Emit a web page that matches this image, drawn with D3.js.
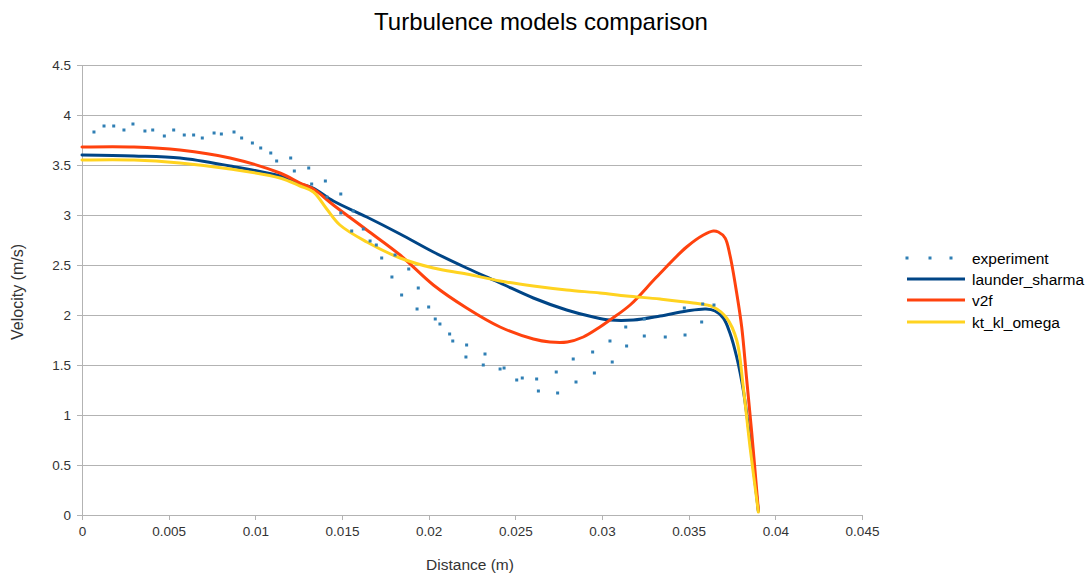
<!DOCTYPE html>
<html>
<head>
<meta charset="utf-8">
<script src="https://cdn.jsdelivr.net/npm/d3@7"></script>
<style>
  body { margin: 0; background: #fff; }
  svg { font-family: "Liberation Sans", Arial, sans-serif; }
</style>
</head>
<body>
<svg id="chart" width="1086" height="576"></svg>
<script>
const seriesNames = ["experiment", "launder_sharma", "v2f", "kt_kl_omega"];
const xTicks = [0, 0.005, 0.01, 0.015, 0.02, 0.025, 0.03, 0.035, 0.04, 0.045];
const yTicks = [0, 0.5, 1, 1.5, 2, 2.5, 3, 3.5, 4, 4.5];

const experimentX = [0.00069,0.00127,0.00183,0.00242,0.00294,0.00363,0.00408,0.00475,0.00529,0.00590,0.00644,0.00694,0.00762,0.00804,0.00877,0.00921,0.00983,0.01031,0.01089,0.01123,0.01204,0.01225,0.01308,0.01325,0.01404,0.01413,0.01493,0.01493,0.01565,0.01556,0.01623,0.01662,0.01698,0.01729,0.01806,0.01788,0.01885,0.01844,0.01940,0.01933,0.02000,0.02038,0.02065,0.02121,0.02139,0.02219,0.02215,0.02325,0.02315,0.02412,0.02435,0.02508,0.02540,0.02623,0.02633,0.02736,0.02744,0.02834,0.02850,0.02946,0.02956,0.03046,0.03059,0.03137,0.03142,0.03244,0.03244,0.03365,0.03475,0.03479,0.03575,0.03581,0.03646];
const experimentY = [3.83,3.89,3.89,3.85,3.91,3.84,3.85,3.79,3.85,3.80,3.80,3.77,3.82,3.81,3.83,3.77,3.72,3.67,3.62,3.54,3.57,3.44,3.47,3.31,3.34,3.18,3.21,3.02,3.04,2.84,2.86,2.74,2.70,2.57,2.60,2.38,2.46,2.20,2.27,2.06,2.08,1.96,1.91,1.81,1.74,1.70,1.58,1.61,1.50,1.46,1.47,1.35,1.37,1.36,1.24,1.43,1.22,1.56,1.33,1.63,1.42,1.74,1.53,1.88,1.69,1.96,1.79,1.78,2.07,1.80,1.93,2.11,2.10];

const launderX = [0,0.003,0.00565,0.00854,0.01142,0.01258,0.01333,0.0145,0.01643,0.01835,0.02027,0.02219,0.02412,0.02604,0.02796,0.0295,0.03046,0.03181,0.03335,0.03488,0.036,0.03652,0.037,0.03738,0.03777,0.03815,0.03854,0.03902];
const launderY = [3.60,3.59,3.57,3.49,3.39,3.31,3.27,3.14,2.98,2.81,2.63,2.47,2.32,2.17,2.05,1.98,1.95,1.95,1.99,2.04,2.06,2.04,1.97,1.82,1.58,1.25,0.75,0.04];

const v2fX = [0,0.003,0.00565,0.00854,0.01142,0.01258,0.01335,0.0145,0.01643,0.01835,0.02027,0.02219,0.02412,0.02604,0.027,0.028,0.02892,0.02988,0.03046,0.03162,0.03315,0.03488,0.03585,0.03642,0.03671,0.0371,0.03738,0.03777,0.03806,0.03835,0.03864,0.03902];
const v2fY = [3.68,3.68,3.65,3.57,3.42,3.32,3.26,3.10,2.85,2.60,2.30,2.07,1.88,1.76,1.73,1.73,1.78,1.88,1.95,2.10,2.38,2.68,2.80,2.84,2.83,2.77,2.60,2.22,1.88,1.35,0.82,0.05];

const ktX = [0,0.003,0.00565,0.00854,0.01142,0.01258,0.01335,0.01412,0.01488,0.01643,0.01835,0.02027,0.02219,0.02412,0.02604,0.02796,0.02988,0.03142,0.03335,0.03527,0.03642,0.03719,0.03777,0.03815,0.03854,0.03902];
const ktY = [3.55,3.55,3.52,3.46,3.37,3.29,3.23,3.06,2.90,2.73,2.57,2.47,2.41,2.34,2.29,2.25,2.22,2.19,2.16,2.12,2.08,1.97,1.75,1.28,0.68,0.03];

const colors = ["#2f7fb4", "#004586", "#ff420e", "#ffd320"];

const svg = d3.select("#chart");
const x = d3.scaleLinear().domain([0, 0.045]).range([82, 862]);
const y = d3.scaleLinear().domain([0, 4.5]).range([515, 65]);

// title
svg.append("text").attr("x", 541).attr("y", 30).attr("text-anchor", "middle")
  .attr("font-size", 24).attr("fill", "#000").text("Turbulence models comparison");

// gridlines
svg.append("g").selectAll("line").data(yTicks).join("line")
  .attr("x1", x(0)).attr("x2", x(0.045))
  .attr("y1", d => y(d)).attr("y2", d => y(d))
  .attr("stroke", "#b3b3b3").attr("stroke-width", 1).attr("shape-rendering", "crispEdges");

// axes
const xAxis = d3.axisBottom(x).tickValues(xTicks).tickFormat(d => String(+d.toFixed(3))).tickSize(5).tickPadding(6);
const gx = svg.append("g").attr("transform", `translate(0,${y(0)})`).call(xAxis);
const yAxis = d3.axisLeft(y).tickValues(yTicks).tickFormat(d => String(d)).tickSize(5).tickPadding(6);
const gy = svg.append("g").attr("transform", `translate(${x(0)},0)`).call(yAxis);
[gx, gy].forEach(g => {
  g.select(".domain").attr("stroke", "#b3b3b3").attr("shape-rendering", "crispEdges");
  g.selectAll(".tick line").attr("stroke", "#b3b3b3").attr("shape-rendering", "crispEdges");
  g.selectAll(".tick text").attr("fill", "#333").attr("font-size", 13.5)
    .attr("font-family", "'Liberation Sans', Arial, sans-serif");
});
gy.select(".domain").attr("d", `M-5,${y(4.5)}H0V${y(0)}H-5`);

// axis titles
svg.append("text").attr("x", 470).attr("y", 570).attr("text-anchor", "middle")
  .attr("font-size", 15.5).attr("fill", "#333").text("Distance (m)");
svg.append("text").attr("transform", `translate(23,292) rotate(-90)`).attr("text-anchor", "middle")
  .attr("font-size", 16).attr("fill", "#333").text("Velocity (m/s)");

// lines
const lineGen = d3.line().x(d => x(d[0])).y(d => y(d[1])).curve(d3.curveCatmullRom.alpha(0.5));
const lineSeries = [
  {x: launderX, y: launderY, c: colors[1]},
  {x: v2fX, y: v2fY, c: colors[2]},
  {x: ktX, y: ktY, c: colors[3]}
];
const plot = svg.append("g");
lineSeries.forEach(s => {
  const pts = s.x.map((v, i) => [v, s.y[i]]);
  plot.append("path").datum(pts).attr("d", lineGen)
    .attr("fill", "none").attr("stroke", s.c).attr("stroke-width", 3)
    .attr("stroke-linejoin", "round").attr("stroke-linecap", "round");
});

// experiment points
plot.append("g").selectAll("rect").data(experimentX.map((v, i) => [v, experimentY[i]])).join("rect")
  .attr("x", d => x(d[0]) - 1.5).attr("y", d => y(d[1]) - 1.5)
  .attr("width", 3).attr("height", 3).attr("fill", colors[0]);

// legend
const legend = svg.append("g");
const legY = [258, 279, 300, 322];
seriesNames.forEach((name, i) => {
  const g = legend.append("g").attr("transform", `translate(0,${legY[i]})`);
  if (i === 0) {
    [907, 930, 951].forEach(px => g.append("rect").attr("x", px - 1.5).attr("y", -1.5)
      .attr("width", 3).attr("height", 3).attr("fill", colors[0]));
  } else {
    g.append("line").attr("x1", 907).attr("x2", 965).attr("y1", 0).attr("y2", 0)
      .attr("stroke", colors[i]).attr("stroke-width", 3);
  }
  g.append("text").attr("x", 972).attr("y", 5.5).attr("font-size", 15.5).attr("fill", "#000").text(name);
});
</script>
</body>
</html>
